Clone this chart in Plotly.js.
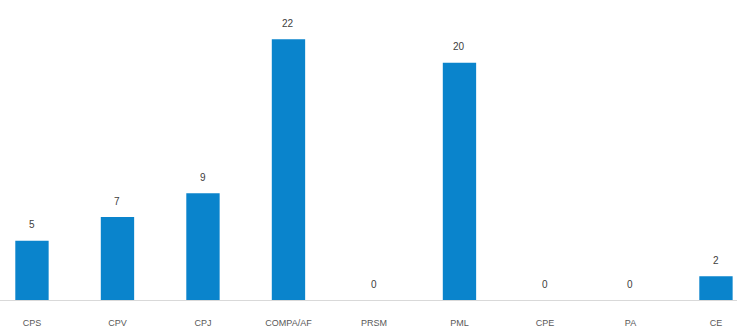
<!DOCTYPE html>
<html><head><meta charset="utf-8">
<script src="https://cdn.plot.ly/plotly-3.0.1.min.js"></script>
<style>html,body{margin:0;padding:0;background:#fff;}#chart{width:737px;height:336px;}</style>
</head><body><div id="chart"></div>
<script>
const categories = ["CPS","CPV","CPJ","COMPA/AF","PRSM","PML","CPE","PA","CE"];
const values = [5,7,9,22,0,20,0,0,2];

const trace = {
  type: 'bar',
  x: categories.map((c,i)=>i),
  y: values,
  width: 0.39,
  marker: {color: '#0a84cc'},
  hoverinfo: 'skip'
};
const annotations = values.map((v,i)=>({
  x: i, y: v, xref: 'x', yref: 'y', text: String(v), showarrow: false,
  yanchor: 'middle', yshift: 16,
  font: {family: 'Liberation Sans Narrow, Arial Narrow, Liberation Sans, sans-serif', size: 10, color: '#404040'}
}));
const layout = {
  width: 737, height: 336,
  margin: {l: 0, r: 0, t: 0, b: 36},
  paper_bgcolor: '#fff', plot_bgcolor: '#fff',
  showlegend: false,
  xaxis: {
    range: [-0.374, 8.246],
    tickmode: 'array', tickvals: categories.map((c,i)=>i), ticktext: categories,
    showgrid: false, zeroline: false,
    showline: true, linecolor: '#d9d9d9', linewidth: 1,
    ticks: '', ticklabelstandoff: 14,
    tickfont: {family: 'Liberation Sans Narrow, Arial Narrow, Liberation Sans, sans-serif', size: 9, color: '#595959'}
  },
  yaxis: {range: [0, 25.3], visible: false, showgrid: false, zeroline: false},
  annotations: annotations
};
Plotly.newPlot('chart', [trace], layout, {displayModeBar: false, staticPlot: true});
</script></body></html>
